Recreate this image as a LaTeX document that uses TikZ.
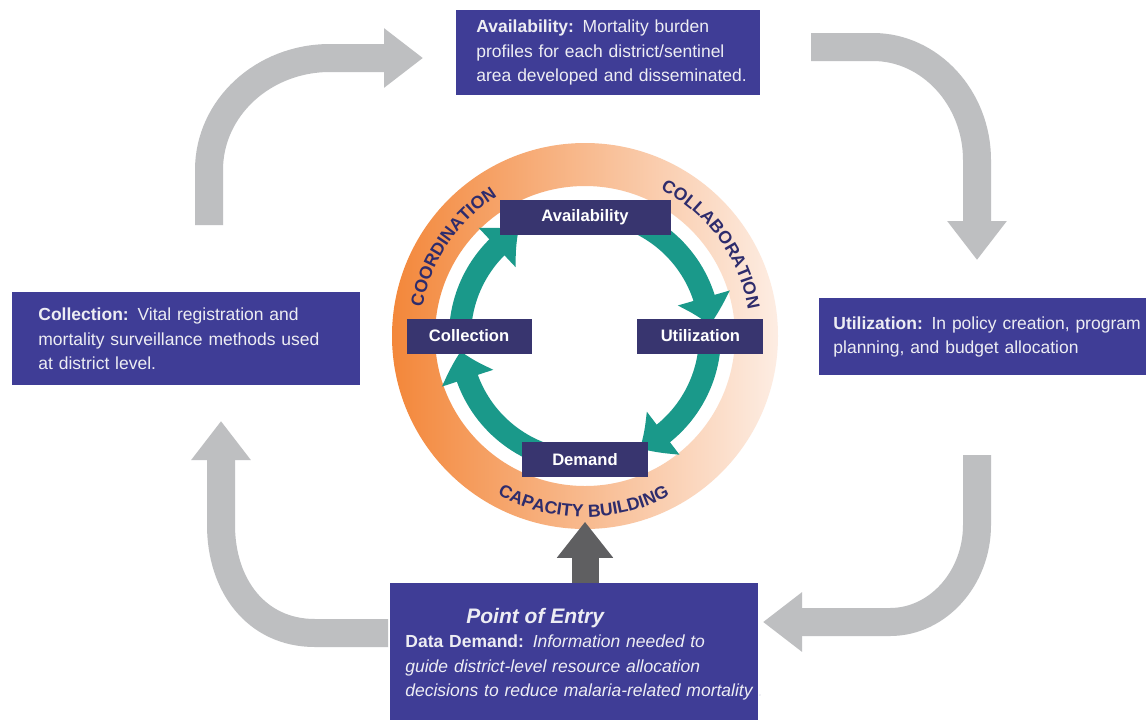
\documentclass[tikz,border=0pt]{standalone}
\usepackage{fontspec}
\setmainfont{Liberation Sans}
\usetikzlibrary{positioning,arrows.meta,bending,decorations.text}

\definecolor{boxblue}{HTML}{3F3D96}
\definecolor{boxtext}{HTML}{EDEDF3}
\definecolor{cyclenavy}{HTML}{38356F}
\definecolor{cycleteal}{HTML}{1A998A}
\definecolor{loopgrey}{HTML}{BEBFC1}
\definecolor{entrygrey}{HTML}{5F5F61}
\definecolor{ringdark}{HTML}{F3873A}
\definecolor{ringpale}{HTML}{FDEDE3}
\definecolor{ringtext}{HTML}{2E2C6C}

\newcommand{\ringfont}{\color{ringtext}\bfseries\fontsize{8.8}{10}\selectfont}

\begin{document}
\begin{tikzpicture}[x=0.5pt, y=0.5pt,
    bigbox/.style={fill=boxblue, text=boxtext, align=left, anchor=north west, font=\fontsize{8.75}{12.25}\selectfont},
    cyclebox/.style={fill=cyclenavy, text=white, inner sep=0pt, minimum height=17.5pt, font=\bfseries\fontsize{8.3}{10}\selectfont},
    looparrow/.style={draw=loopgrey, line width=14pt, -{Triangle[length=19.5pt, width=28.5pt]}},
    cyclearrow/.style={draw=cycleteal, line width=11pt, -{Triangle[length=14pt, width=26pt, bend]}},
    ringlabel/.style={decorate, decoration={text along path, text align=center, text={|\ringfont|#1}}}]
    \useasboundingbox (0,0) rectangle (1146,-719);
    \fill[white] (0,0) rectangle (1146,-719);
    \coordinate (ctr) at (585,-336);

    % ring
    \shade[left color=ringdark, right color=ringpale, even odd rule] (ctr) circle[radius=193] (ctr) circle[radius=150];
    \path[ringlabel=COORDINATION] (ctr) ++(186:165) arc[start angle=186, end angle=106, radius=165];
    \path[ringlabel=COLLABORATION] (ctr) ++(76:165) arc[start angle=76, end angle=-4, radius=165];
    \path[ringlabel={CAPACITY BUILDING}] (ctr) ++(229.5:181) arc[start angle=229.5, end angle=309.5, radius=181];

    % cycle
    \draw[cyclearrow] (ctr) ++(185:125) arc[start angle=185, end angle=122, radius=125];
    \draw[cyclearrow] (ctr) ++(88:125) arc[start angle=88, end angle=5, radius=125];
    \draw[cyclearrow] (ctr) ++(-2:125) arc[start angle=-2, end angle=-64, radius=125];
    \draw[cyclearrow] (ctr) ++(-92:125) arc[start angle=-92, end angle=-173, radius=125];

    \node[cyclebox, minimum width=85.5pt, above=50.5pt of ctr] (availS) {Availability};
    \node[cyclebox, minimum width=62.5pt, left=26.5pt of ctr] (collS) {Collection};
    \node[cyclebox, minimum width=63pt, right=26pt of ctr] (utilS) {Utilization};
    \node[cyclebox, minimum width=63pt, below=53pt of ctr] (demS) {Demand};

    % outer loop
    \coordinate (la1s) at (209,-225);
    \coordinate (la1e) at (423,-58);
    \coordinate (la2s) at (811,-47);
    \coordinate (la2e) at (977,-260);
    \coordinate (la3s) at (977,-455);
    \coordinate (la3e) at (763,-622);
    \coordinate (la4s) at (388,-633);
    \coordinate (la4e) at (221,-421);
    \draw[looparrow] (la1s) -- (209,-170) .. controls (209,-108) and (263,-58) .. (330,-58) -- (la1e);
    \draw[looparrow] (la2s) -- (873,-47) .. controls (930,-47) and (977,-98) .. (977,-160) -- (la2e);
    \draw[looparrow] (la3s) -- (977,-525) .. controls (977,-578) and (938,-622) .. (890,-622) -- (la3e);
    \draw[looparrow] (la4s) -- (315,-633) .. controls (256,-633) and (221,-585) .. (221,-525) -- (la4e);

    \node[bigbox, text width=132pt, inner xsep=10pt, minimum height=42.5pt] (avail) at (456,-10) {\textbf{Availability:} Mortality burden\\ profiles for each district/sentinel\\ \mbox{area developed and disseminated.}};
    \node[bigbox, text width=156.5pt, inner xsep=7pt, minimum height=38.5pt] (util) at (819,-298) {\textbf{Utilization:} In policy creation, program\\ planning, and budget allocation};
    \node[bigbox, text width=148pt, inner xsep=13pt, minimum height=46.5pt] (coll) at (12,-292) {\textbf{Collection:} Vital registration and\\ mortality surveillance methods used\\ at district level.};
    \node[bigbox, text width=169pt, inner xsep=7.5pt, inner ysep=12.3pt] (entry) at (390,-583) {\hspace*{30.5pt}{\bfseries\itshape\fontsize{10.5}{12.25}\selectfont Point of Entry}\\ \textbf{Data Demand:} \textit{Information needed to}\\ \textit{guide district-level resource allocation}\\ \mbox{\textit{decisions to reduce malaria-related mortality .}}};

    \draw[draw=entrygrey, line width=13.5pt, -{Triangle[length=18pt, width=27pt]}, shorten >=22pt] (entry.north -| demS.south) -- (demS.south);
\end{tikzpicture}
\end{document}
